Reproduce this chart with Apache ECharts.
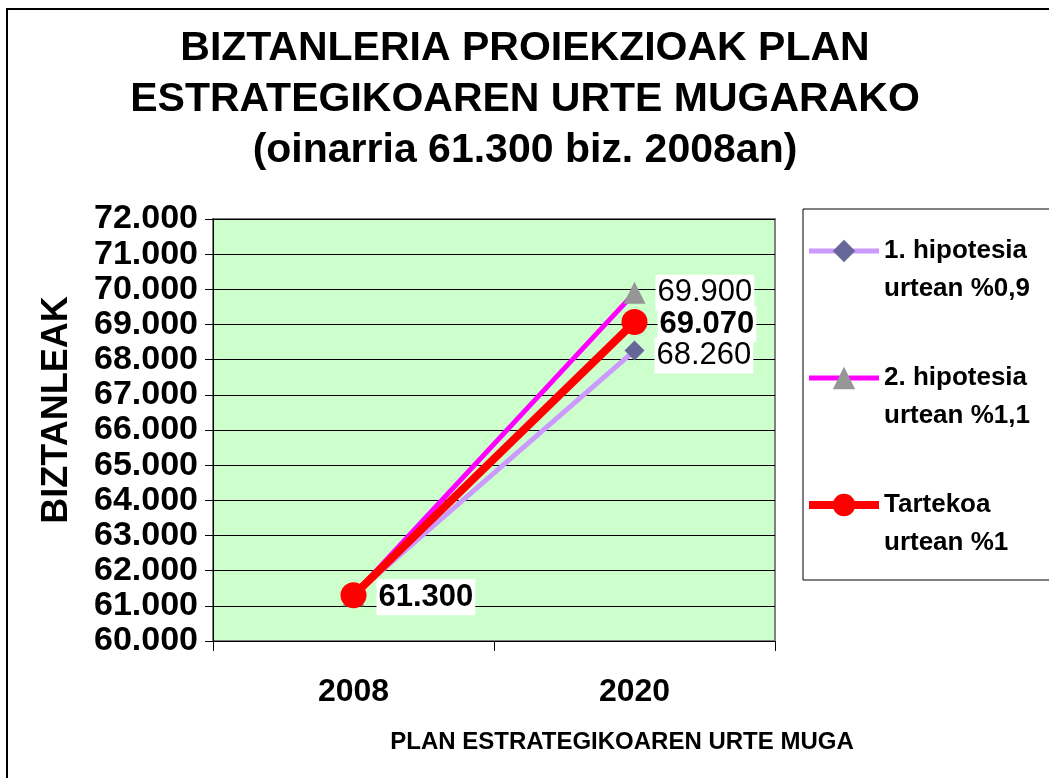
<!DOCTYPE html>
<html>
<head>
<meta charset="utf-8">
<script src="https://cdn.jsdelivr.net/npm/echarts@6/dist/echarts.min.js"></script>
<style>html,body{margin:0;padding:0;background:#fff}#c{width:1049px;height:778px}</style>
</head>
<body>
<div id="c"></div>
<script>
const categories = ['2008', '2020'];
const hip1 = [61300, 68260];
const hip2 = [61300, 69900];
const tartekoa = [61300, 69070];
const seriesNames = ['1. hipotesia\nurtean %0,9', '2. hipotesia\nurtean %1,1', 'Tartekoa\nurtean %1'];
const yMin = 60000, yMax = 72000, yStep = 1000;

const F = '"Liberation Sans", Arial, sans-serif';
function fmt(v) { return String(v).replace(/\B(?=(\d{3})+(?!\d))/g, '.'); }

function pts(values, labelIdx, bold, offsetY) {
  return values.map((v, i) => ({
    value: v,
    label: {
      show: labelIdx.indexOf(i) >= 0,
      position: 'right',
      distance: 10,
      offset: [0, offsetY || 0],
      formatter: p => fmt(p.value),
      fontFamily: F,
      fontSize: 31,
      fontWeight: bold ? 'bold' : 'normal',
      color: '#000',
      backgroundColor: '#fff',
      padding: [3, 2, 2, 2]
    }
  }));
}

const legendLine = [5, 5, 8];

const chart = echarts.init(document.getElementById('c'), null, { renderer: 'canvas' });
chart.setOption({
  animation: false,
  backgroundColor: '#fff',
  title: {
    text: 'BIZTANLERIA PROIEKZIOAK PLAN\nESTRATEGIKOAREN URTE MUGARAKO\n(oinarria 61.300 biz. 2008an)',
    left: 520, top: 18, textAlign: 'center',
    textStyle: { fontFamily: F, fontSize: 41, fontWeight: 'bold', color: '#000', lineHeight: 51 }
  },
  grid: {
    left: 213, top: 219, right: 274, bottom: 137,
    show: true, backgroundColor: '#CCFFCC', borderColor: '#808080', borderWidth: 2
  },
  legend: {
    orient: 'vertical', left: 800, top: 195,
    itemWidth: 70, itemHeight: 28, itemGap: 25,
    data: seriesNames.map((n, i) => ({ name: n, lineStyle: { width: legendLine[i] } })),
    formatter: n => { const p = n.split('\n'); return '{e| }\n{a|' + p[0] + '}\n{a|' + p[1] + '}'; },
    textStyle: {
      fontFamily: F, fontSize: 26, fontWeight: 'bold', color: '#000',
      rich: {
        e: { lineHeight: 38, fontSize: 26 },
        a: { lineHeight: 38, fontSize: 26, fontWeight: 'bold', fontFamily: F, color: '#000' }
      }
    }
  },
  xAxis: {
    type: 'category', data: categories, boundaryGap: true,
    axisLine: { lineStyle: { color: '#000', width: 1 } },
    axisTick: { show: true, length: 10, lineStyle: { color: '#000' } },
    axisLabel: { fontFamily: F, fontSize: 32, fontWeight: 'bold', color: '#000', margin: 35 },
    splitLine: { show: false }
  },
  yAxis: {
    type: 'value', min: yMin, max: yMax, interval: yStep,
    axisLine: { show: true, lineStyle: { color: '#000', width: 1 } },
    axisTick: { show: true, length: 8, lineStyle: { color: '#000' } },
    axisLabel: { fontFamily: F, fontSize: 34, fontWeight: 'bold', color: '#000', margin: 15, formatter: v => fmt(v) },
    splitLine: { show: true, lineStyle: { color: '#000', width: 1 } }
  },
  graphic: [
    { type: 'rect', shape: { x: 7, y: 9, width: 1100, height: 800 }, style: { fill: null, stroke: '#000', lineWidth: 2 }, z: -1 },
    { type: 'rect', shape: { x: 803, y: 209, width: 300, height: 371 }, style: { fill: null, stroke: '#000', lineWidth: 1 } },
    { type: 'text', x: 57, y: 410, rotation: Math.PI / 2,
      style: { text: 'BIZTANLEAK', fontFamily: F, fontSize: 36, fontWeight: 'bold', fill: '#000', align: 'center', verticalAlign: 'middle' } },
    { type: 'text', x: 622, y: 742,
      style: { text: 'PLAN ESTRATEGIKOAREN URTE MUGA', fontFamily: F, fontSize: 24, fontWeight: 'bold', fill: '#000', align: 'center', verticalAlign: 'middle' } }
  ],
  series: [
    { name: seriesNames[0], type: 'line', data: pts(hip1, [1], false, 5),
      symbol: 'diamond', symbolSize: 20,
      lineStyle: { color: '#CC99FF', width: 5 }, itemStyle: { color: '#666699' } },
    { name: seriesNames[1], type: 'line', data: pts(hip2, [1], false, 0),
      symbol: 'triangle', symbolSize: 22,
      lineStyle: { color: '#FF00FF', width: 5 }, itemStyle: { color: '#969696' } },
    { name: seriesNames[2], type: 'line', data: pts(tartekoa, [0, 1], true, 2),
      symbol: 'circle', symbolSize: 26,
      lineStyle: { color: '#FF0000', width: 8 }, itemStyle: { color: '#FF0000' } }
  ]
});
</script>
</body>
</html>
